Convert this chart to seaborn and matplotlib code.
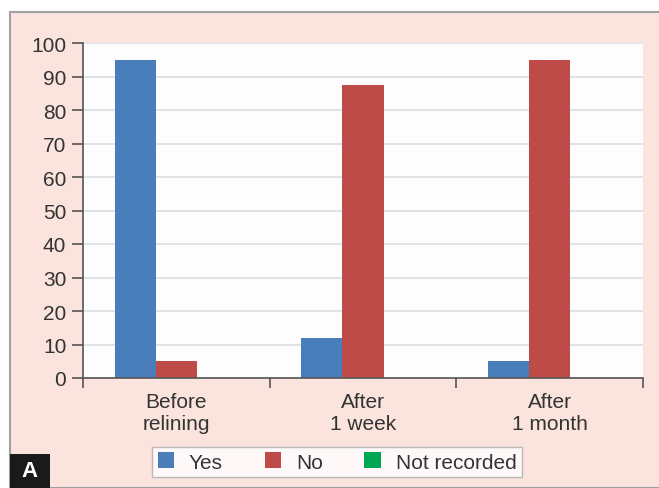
import numpy as np
import pandas as pd
import matplotlib.pyplot as plt
import seaborn as sns
from matplotlib.patches import Rectangle

# Data
stages = ['Before\nrelining', 'After\n1 week', 'After\n1 month']
responses = ['Yes', 'No', 'Not recorded']
yes_pct = [95, 12, 5]
no_pct = [5, 87.5, 95]
not_recorded_pct = [0, 0, 0]

colors = ['#4a7ebb', '#be4b48', '#00a651']

df = pd.DataFrame({
    'stage': np.repeat(stages, 3),
    'response': responses * 3,
    'value': [v for trio in zip(yes_pct, no_pct, not_recorded_pct) for v in trio],
})

sns.set_style('white')
plt.rcParams['font.family'] = ['Liberation Sans', 'DejaVu Sans']

fig = plt.figure(figsize=(6.59, 4.89), dpi=100)
fig.patch.set_facecolor('white')

# pink panel behind the chart
panel = Rectangle((10 / 659, 0), 1 - 10 / 659 + 0.01, (489 - 13) / 489, transform=fig.transFigure,
                  facecolor='#fbe4dd', edgecolor='#a0a0a0', linewidth=1.5, zorder=-10)
fig.patches.append(panel)

ax = fig.add_axes([83 / 659, (489 - 379) / 489, (643 - 83) / 659, (379 - 44) / 489])
ax.set_zorder(1)
ax.set_facecolor('#fdfdfd')

sns.barplot(data=df, x='stage', y='value', hue='response', hue_order=responses,
            palette=colors, width=0.66, gap=0, saturation=1, linewidth=0, ax=ax, zorder=3)

ax.set_ylim(0, 100)
ax.set_xlim(-0.5, 2.5)
ax.set_yticks(range(0, 101, 10))
ax.yaxis.grid(True, color='#d9dde2', linewidth=1.2, zorder=0)
ax.set_axisbelow(True)

for side in ['top', 'right']:
    ax.spines[side].set_visible(False)
for side in ['left', 'bottom']:
    ax.spines[side].set_color('#555555')
    ax.spines[side].set_linewidth(1.2)
ax.spines['bottom'].set_zorder(4)

txt = '#333333'
ax.tick_params(axis='y', left=True, length=8, width=1.2, color='#555555',
               labelsize=15, labelcolor=txt, pad=4)
ax.tick_params(axis='x', which='major', length=0, labelsize=15, labelcolor=txt, pad=10)
ax.set_xticks([-0.5, 0.5, 1.5, 2.5], minor=True)
ax.tick_params(axis='x', which='minor', bottom=True, length=7, width=1.2, color='#555555')

ax.set_xlabel('')
ax.set_ylabel('')

handles, labels = ax.get_legend_handles_labels()
leg = ax.legend(handles, labels, loc='center', bbox_to_anchor=(337 / 659, (489 - 463) / 489),
                bbox_transform=fig.transFigure, ncol=3, frameon=True, fancybox=False,
                edgecolor='#aaaaaa', facecolor='white', fontsize=15, handlelength=0.8,
                handleheight=0.8, columnspacing=2.0, handletextpad=0.7, borderpad=0.25,
                borderaxespad=0)
for t in leg.get_texts():
    t.set_color(txt)

# panel label
fig.patches.append(Rectangle((10 / 659, 0), 40 / 659, 34 / 489, transform=fig.transFigure,
                             facecolor='#1a1a1a', edgecolor='none', zorder=5))
fig.text(30 / 659, 17 / 489, 'A', color='white', fontsize=16, fontweight='bold',
         ha='center', va='center', zorder=6)

fig.savefig('out.png', dpi=100)
